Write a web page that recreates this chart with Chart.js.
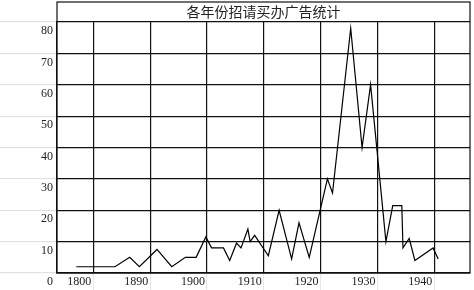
<!DOCTYPE html>
<html>
<head>
<meta charset="utf-8">
<script src="https://cdn.jsdelivr.net/npm/chart.js@4.4.0/dist/chart.umd.min.js"></script>
<style>
  body { margin: 0; background: #fff; }
</style>
</head>
<body>
<canvas id="grafico" width="474" height="290"></canvas>
<script>
// dados
const titulo = '各年份招请买办广告统计';
const anos = [1879.5, 1886.3, 1888.9, 1890.6, 1893.7, 1896.3, 1898.7, 1900.6, 1902.3, 1903.3,
              1905.4, 1906.5, 1907.7, 1908.5, 1909.7, 1910.1, 1910.9, 1913.3, 1915.2, 1917.4,
              1918.7, 1920.5, 1923.7, 1924.6, 1927.8, 1929.8, 1931.3, 1934.0, 1935.2, 1936.8,
              1937.0, 1938.1, 1939.1, 1942.3, 1943.2];
const anuncios = [2, 2, 5, 2, 7.5, 2, 5, 5, 11.5, 8,
                  8, 4, 9.5, 8, 14, 10, 12, 5.5, 20, 4.5,
                  16, 5, 30, 25.5, 78, 40, 60, 10, 21.5, 21.5,
                  8, 11, 4, 8, 4.5];
const rotulosX = ['1800', '1890', '1900', '1910', '1920', '1930', '1940'];
const linhasX = [1882.5, 1892.5, 1902.5, 1912.5, 1922.5, 1932.5, 1942.5];
const ticksY = [0, 10, 20, 30, 40, 50, 60, 70, 80];

const pontos = anos.map((a, i) => ({ x: a, y: anuncios[i] }));

// moldura do titulo e do grafico
const moldura = {
  id: 'moldura',
  afterDraw(chart) {
    const { ctx, chartArea: a } = chart;
    ctx.save();
    ctx.strokeStyle = '#111';
    ctx.lineWidth = 1.2;
    ctx.strokeRect(a.left, 2, a.right - a.left, a.bottom - 2);
    ctx.restore();
  }
};

const fonteNum = { family: 'Liberation Serif', size: 12 };

new Chart(document.getElementById('grafico'), {
  type: 'line',
  data: {
    datasets: [{
      data: pontos,
      borderColor: '#000',
      borderWidth: 1.2,
      pointRadius: 0,
      tension: 0,
      fill: false
    }]
  },
  options: {
    responsive: false,
    animation: false,
    layout: { padding: { right: 4 } },
    plugins: {
      legend: { display: false },
      tooltip: { enabled: false },
      title: {
        display: true,
        text: titulo,
        fullSize: false,
        color: '#222',
        font: { family: 'Noto Sans CJK SC', size: 14, weight: 'normal', lineHeight: '18px' },
        padding: { top: 3, bottom: 1 }
      }
    },
    scales: {
      x: {
        type: 'linear',
        min: 1876.1,
        max: 1948.8,
        afterBuildTicks: s => { s.ticks = linhasX.map(v => ({ value: v })); },
        afterFit: s => { s.height = 17; },
        grid: { color: '#111', lineWidth: 1.2, tickLength: 17, tickColor: '#e4e4e4', tickWidth: 1 },
        border: { color: '#111', width: 1.2 },
        ticks: {
          autoSkip: false,
          maxRotation: 0,
          callback: (v, i) => rotulosX[i],
          labelOffset: -14,
          padding: -15,
          color: '#222',
          font: fonteNum
        }
      },
      y: {
        min: 0,
        max: 80,
        afterBuildTicks: s => { s.ticks = ticksY.map(v => ({ value: v })); },
        afterFit: s => { s.width = 57; },
        grid: { color: '#111', lineWidth: 1.2, tickLength: 57, tickColor: '#dcdcdc', tickWidth: 1 },
        border: { color: '#111', width: 1.2 },
        ticks: {
          labelOffset: 9,
          padding: -53,
          color: '#222',
          font: fonteNum
        }
      }
    }
  },
  plugins: [moldura]
});
</script>
</body>
</html>
